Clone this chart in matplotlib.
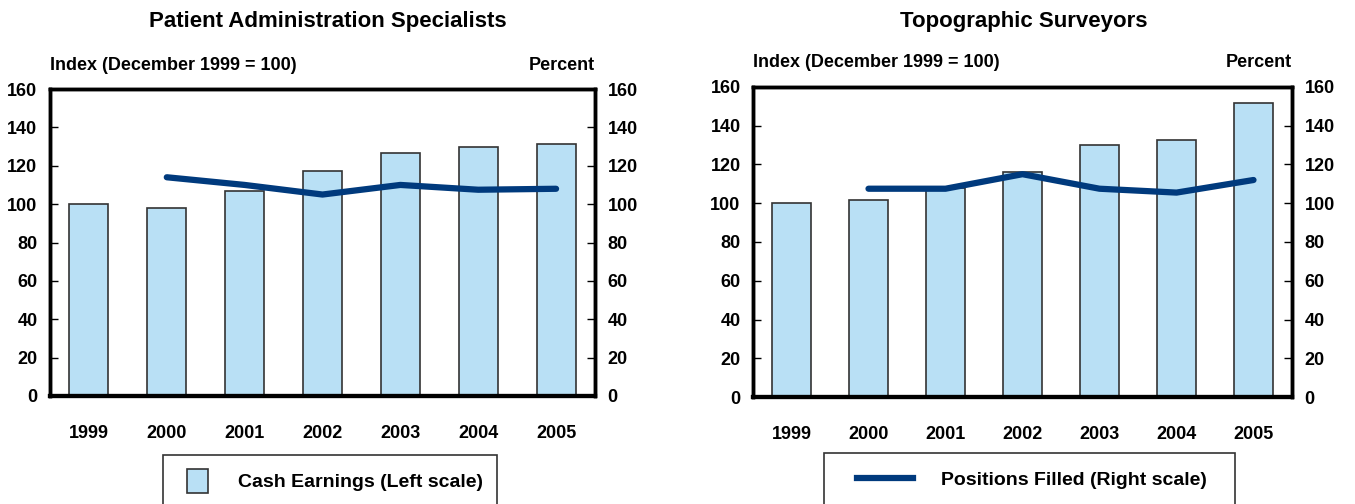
import matplotlib.pyplot as plt
import matplotlib.patches as mpatches
import matplotlib.lines as mlines
import numpy as np

plt.rcParams['font.family'] = ['Liberation Sans', 'DejaVu Sans']
plt.rcParams['font.weight'] = 'bold'

years = ['1999', '2000', '2001', '2002', '2003', '2004', '2005']

# Patient Administration Specialists
pas_earnings = [100, 98, 107, 117.5, 126.5, 130, 131.5]
pas_filled = [None, 114, 110, 105, 110, 107.5, 108]

# Topographic Surveyors
topo_earnings = [100, 101.5, 108, 116, 130, 132.5, 151.5]
topo_filled = [None, 107.5, 107.5, 115, 107.5, 105.5, 112]

yticks = [0, 20, 40, 60, 80, 100, 120, 140, 160]

bar_color = '#b9e0f5'
bar_edge = '#333333'
line_color = '#003a7d'

W, H = 1355, 504
fig = plt.figure(figsize=(W / 100, H / 100), dpi=100)


def draw_panel(rect, title, earnings, filled, title_x):
    ax = fig.add_axes(rect)
    x = np.arange(len(years))
    ax.bar(x, earnings, width=0.5, color=bar_color, edgecolor=bar_edge, linewidth=1.2, zorder=2)
    ax.set_xlim(-0.5, len(years) - 0.5)
    ax.set_ylim(0, 160)
    ax.set_yticks(yticks)
    ax.set_xticks(x)
    ax.set_xticklabels(years)
    ax.tick_params(axis='x', length=0, pad=21, labelsize=13)
    ax.tick_params(axis='y', direction='in', length=6, width=1, pad=9, labelsize=13)
    for s in ax.spines.values():
        s.set_linewidth(2.5)
    ax.spines['bottom'].set_linewidth(3)

    ax2 = ax.twinx()
    ax2.set_ylim(0, 160)
    ax2.set_yticks(yticks)
    ax2.tick_params(axis='y', direction='in', length=6, width=1, pad=9, labelsize=13)
    fx = [i for i, v in enumerate(filled) if v is not None]
    fy = [v for v in filled if v is not None]
    ax2.plot(fx, fy, color=line_color, linewidth=4.5, solid_capstyle='round', zorder=3)
    for s in ax2.spines.values():
        s.set_linewidth(2.5)
    ax2.spines['bottom'].set_linewidth(3)

    ax.text(0, 1.05, 'Index (December 1999 = 100)', transform=ax.transAxes,
            ha='left', va='bottom', fontsize=13)
    ax.text(1, 1.05, 'Percent', transform=ax.transAxes,
            ha='right', va='bottom', fontsize=13)
    fig.text(title_x, 0.958, title, ha='center', va='center', fontsize=16)
    return ax


draw_panel([50 / W, 108 / H, 545 / W, 307 / H],
           'Patient Administration Specialists', pas_earnings, pas_filled, 328 / W)
draw_panel([753 / W, 107 / H, 539 / W, 310 / H],
           'Topographic Surveyors', topo_earnings, topo_filled, 1024 / W)

# legend boxes run off the bottom edge of the figure
for x0, x1, top in [(163, 497, 455), (824, 1235, 453)]:
    fig.add_artist(mpatches.Rectangle((x0 / W, -0.1), (x1 - x0) / W, (H - top) / H + 0.1,
                                      transform=fig.transFigure, fill=False,
                                      edgecolor='#333333', linewidth=1.2, clip_on=False))

bar_handle = mpatches.Patch(facecolor=bar_color, edgecolor=bar_edge, linewidth=1.2)
line_handle = mlines.Line2D([], [], color=line_color, linewidth=4.5)

fig.legend([bar_handle], ['Cash Earnings (Left scale)'], loc='center left',
           bbox_to_anchor=(187 / W, 23 / H), fontsize=14,
           handlelength=1.1, handleheight=1.5, handletextpad=1.5,
           borderpad=0, borderaxespad=0, frameon=False)
fig.legend([line_handle], ['Positions Filled (Right scale)'], loc='center left',
           bbox_to_anchor=(857 / W, 24 / H), fontsize=14,
           handlelength=2.9, handletextpad=1.4, borderpad=0,
           borderaxespad=0, frameon=False)

fig.savefig('out.png', dpi=100)
